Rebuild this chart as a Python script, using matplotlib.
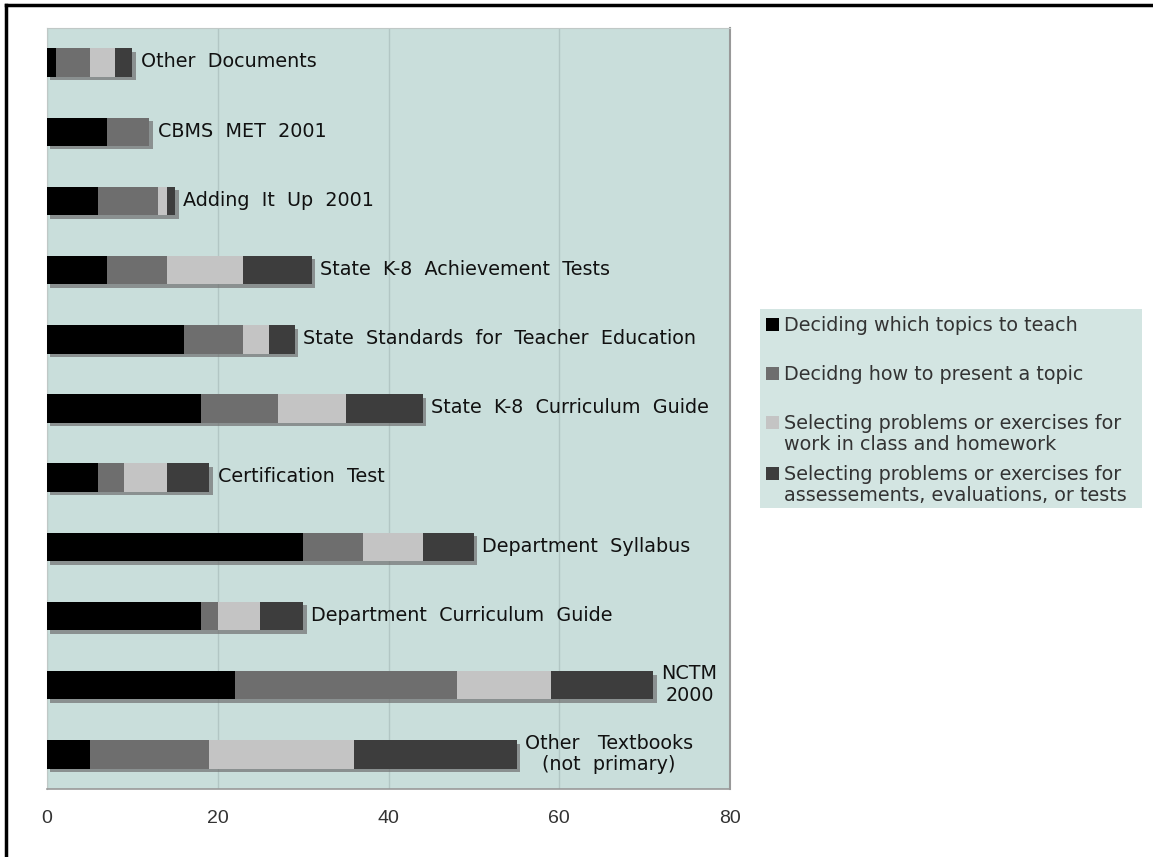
import matplotlib.pyplot as plt
import matplotlib.patheffects as pe
from matplotlib.patches import Rectangle
from matplotlib.lines import Line2D

plt.rcParams['font.family'] = ['DejaVu Sans']

# documents, listed top to bottom
documents = ['Other  Documents', 'CBMS  MET  2001', 'Adding  It  Up  2001',
             'State  K-8  Achievement  Tests',
             'State  Standards  for  Teacher  Education',
             'State  K-8  Curriculum  Guide', 'Certification  Test',
             'Department  Syllabus', 'Department  Curriculum  Guide',
             'NCTM\n2000', 'Other   Textbooks\n(not  primary)']

which_topics = [1, 7, 6, 7, 16, 18, 6, 30, 18, 22, 5]
how_present = [4, 5, 7, 7, 7, 9, 3, 7, 2, 26, 14]
class_problems = [3, 0, 1, 9, 3, 8, 5, 7, 5, 11, 17]
test_problems = [2, 0, 1, 8, 3, 9, 5, 6, 5, 12, 19]

series_labels = ['Deciding which topics to teach',
                 'Decidng how to present a topic',
                 'Selecting problems or exercises for\nwork in class and homework',
                 'Selecting problems or exercises for\nassessements, evaluations, or tests']
series_colors = ['#000000', '#6e6e6e', '#c4c4c4', '#3d3d3d']

x_ticks = [0, 20, 40, 60, 80]

fig = plt.figure(figsize=(11.53, 8.57), dpi=100)
ax = fig.add_axes([47 / 1153, 1 - 789 / 857, 683 / 1153, 761 / 857])
ax.set_facecolor('#c9dedb')

ypos = list(range(len(documents)))
shadow = [pe.SimplePatchShadow(offset=(2.5, -2.5), shadow_rgbFace='#707070', alpha=0.7),
          pe.Normal()]

left = [0] * len(documents)
for vals, color in zip([which_topics, how_present, class_problems, test_problems], series_colors):
    bars = ax.barh(ypos, vals, left=left, height=0.41, color=color, zorder=3)
    for b, v in zip(bars, vals):
        if v > 0:
            b.set_path_effects(shadow)
    left = [l + v for l, v in zip(left, vals)]

for y, total, name in zip(ypos, left, documents):
    ax.annotate(name, (total, y), xytext=(6, 0.5), textcoords='offset points',
                va='center', ha='left', multialignment='center',
                fontsize=13.8, color='#111111', zorder=4, linespacing=1.15)

ax.set_xlim(0, 80)
ax.set_ylim(len(documents) - 0.5, -0.5)
ax.set_xticks(x_ticks)
ax.set_yticks([])
ax.tick_params(axis='x', length=0, pad=15, labelsize=14, labelcolor='#333333')
for lbl in ax.get_xticklabels():
    lbl.set_fontfamily(['Liberation Sans Narrow', 'Liberation Sans'])
    lbl.set_fontstretch('condensed')
ax.grid(axis='x', color='#b2c6c4', linewidth=1, zorder=1)

ax.spines['left'].set_color('#c0c8c6')
ax.spines['top'].set_color('#c0c8c6')
ax.spines['bottom'].set_color('#999999')
ax.spines['right'].set_color('#999999')
ax.spines['right'].set_linewidth(1.5)
ax.spines['bottom'].set_linewidth(1.2)

# legend box drawn by hand so each marker sits on the first line of its entry
W, H = 1153, 857
fig.patches.append(Rectangle((760 / W, 1 - 508 / H), 382 / W, 199 / H,
                             transform=fig.transFigure, facecolor='#d3e5e2',
                             edgecolor='none', zorder=0))
entry_tops = [318, 367, 416, 467]
for top, label, color in zip(entry_tops, series_labels, series_colors):
    fig.patches.append(Rectangle((766 / W, 1 - (top + 13) / H), 13 / W, 13 / H,
                                 transform=fig.transFigure, facecolor=color,
                                 edgecolor='none'))
    fig.text(784 / W, 1 - (top - 2) / H, label, ha='left', va='top',
             fontsize=13.8, color='#333333', linespacing=1.15)

# frame lines on the left and top of the page
fig.add_artist(Line2D([6 / W, 6 / W], [0, 1 - 5 / H], transform=fig.transFigure,
                      color='black', linewidth=2.5))
fig.add_artist(Line2D([6 / W, 1], [1 - 5 / H, 1 - 5 / H], transform=fig.transFigure,
                      color='black', linewidth=2.5))

fig.savefig('out.png', dpi=100)
